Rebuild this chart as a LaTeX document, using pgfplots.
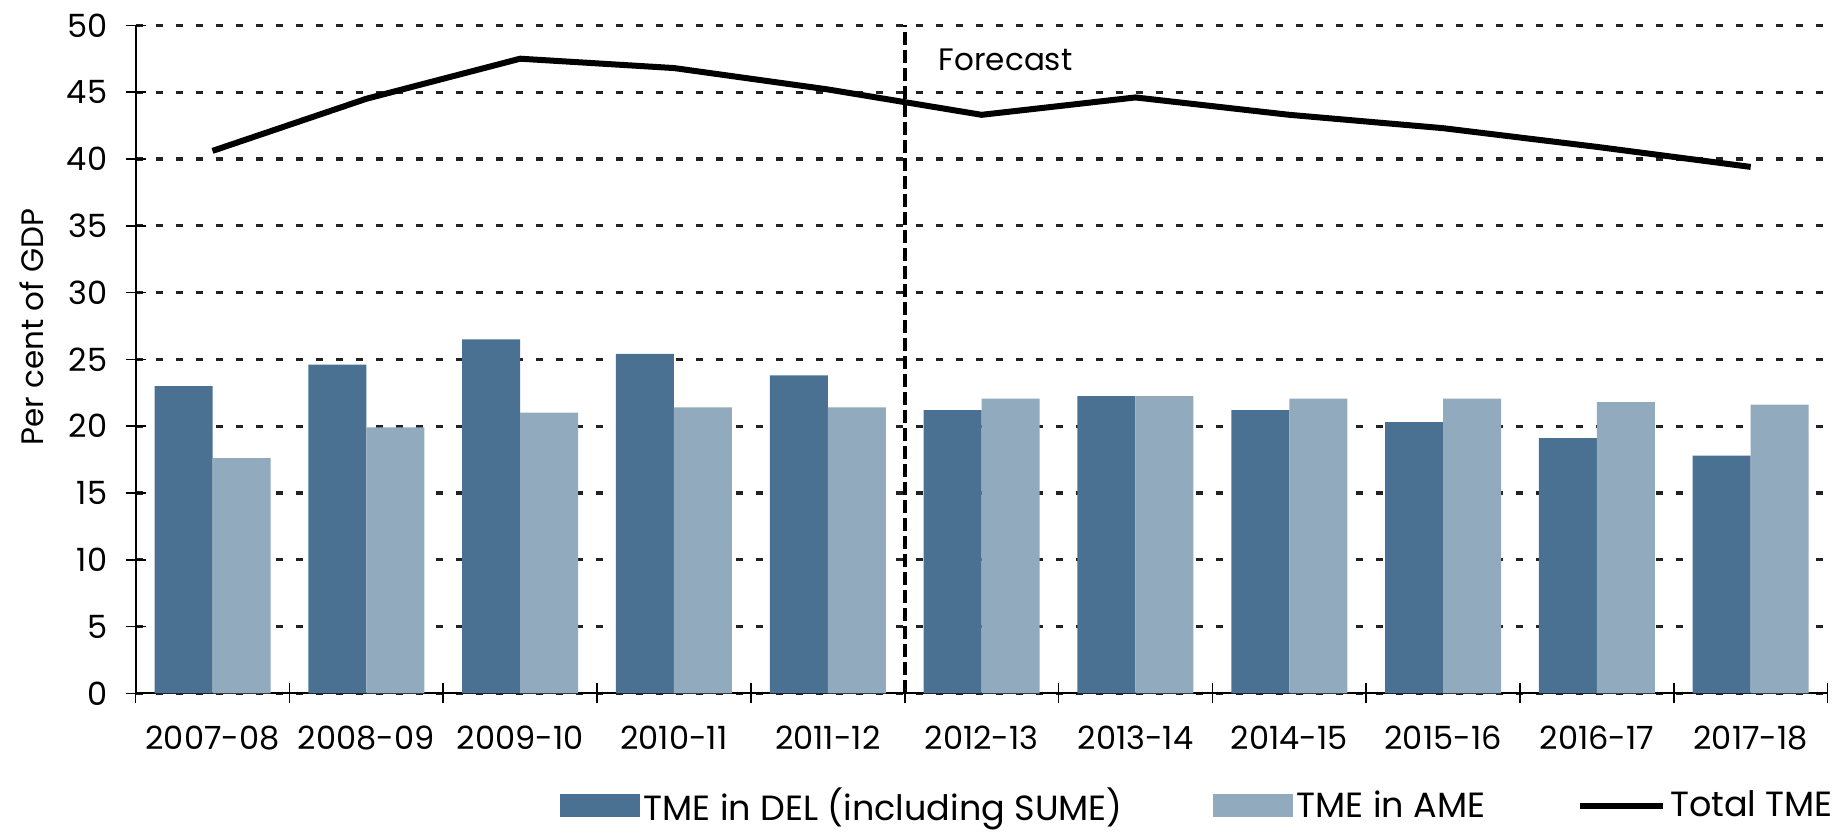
\documentclass[border=0pt]{standalone}
\usepackage{fontspec}
\setmainfont{Poppins}
\usepackage{pgfplots}
\pgfplotsset{compat=1.18}
\definecolor{del}{HTML}{4A7191}
\definecolor{ame}{HTML}{91AABE}
\definecolor{gridc}{HTML}{222222}

\begin{document}
\begin{tikzpicture}
\useasboundingbox (-67.8pt,-69.35pt) rectangle (849.7pt,346.65pt);
\begin{axis}[
  scale only axis, width=846pt, height=334pt,
  at={(0pt,0pt)}, anchor=south west,
  xmin=-0.5, xmax=10.5, ymin=0, ymax=50,
  axis x line*=bottom, axis y line*=left,
  axis line style={black, line width=1pt},
  ytick={0,5,...,50},
  ymajorgrids,
  grid style={gridc, line width=1.6pt, dash pattern=on 3.5pt off 6.5pt},
  tick align=center, major tick length=10pt,
  tick style={black, line width=0.8pt},
  xtick={-0.5,0.5,...,10.5}, xticklabels={},
  extra x ticks={0,1,2,3,4,5,6,7,8,9,10},
  extra x tick labels={2007-08,2008-09,2009-10,2010-11,2011-12,2012-13,2013-14,2014-15,2015-16,2016-17,2017-18},
  extra x tick style={major tick length=0pt, xticklabel style={anchor=center, inner sep=0pt, yshift=-22.4pt}},
  every tick label/.append style={font=\fontsize{16}{19}\selectfont},
  /pgf/number format/assume math mode=true,
  yticklabel style={anchor=east, inner sep=0pt, xshift=-9pt},
  ylabel={Per cent of GDP},
  ylabel style={at={(axis description cs:-0.0615,0.548)}, anchor=center, font=\fontsize{15.5}{18}\selectfont},
  legend columns=3,
  legend style={draw=none, fill=none, inner sep=0pt, at={(axis description cs:0.2505,-0.168)}, anchor=west,
    font=\fontsize{17.5}{20}\selectfont,
    /tikz/column 2/.style={column sep=43pt},
    /tikz/column 4/.style={column sep=44pt}},
]
\addplot[ybar, bar width=29pt, bar shift=-14.5pt, fill=del, draw=none,
  legend image code/.code={\path[fill=del] (0pt,-5.75pt) rectangle (40pt,5.75pt);}]
  coordinates {(0,23.0) (1,24.6) (2,26.5) (3,25.4) (4,23.8) (5,21.2) (6,22.25) (7,21.2) (8,20.3) (9,19.1) (10,17.8)};
\addlegendentry{TME in DEL (including SUME)}
\addplot[ybar, bar width=29pt, bar shift=14.5pt, fill=ame, draw=none,
  legend image code/.code={\path[fill=ame] (0pt,-5.75pt) rectangle (40pt,5.75pt);}]
  coordinates {(0,17.6) (1,19.9) (2,21.0) (3,21.4) (4,21.4) (5,22.05) (6,22.25) (7,22.05) (8,22.05) (9,21.8) (10,21.6)};
\addlegendentry{TME in AME}
\addplot[black, line width=3pt, line join=round,
  legend image code/.code={\draw[black, line width=3pt] (0pt,0pt) -- (41.5pt,0pt);}]
  coordinates {(0,40.6) (1,44.5) (2,47.5) (3,46.8) (4,45.2) (5,43.3) (6,44.6) (7,43.3) (8,42.3) (9,40.9) (10,39.4)};
\addlegendentry{Total TME}
\addplot[forget plot, black, line width=2pt, dash pattern=on 6.5pt off 2.5pt] coordinates {(4.5,0) (4.5,50)};
\node[anchor=west, inner sep=0pt, font=\fontsize{15.5}{18}\selectfont] at (axis cs:4.72,47.4) {Forecast};
\end{axis}
\end{tikzpicture}
\end{document}
